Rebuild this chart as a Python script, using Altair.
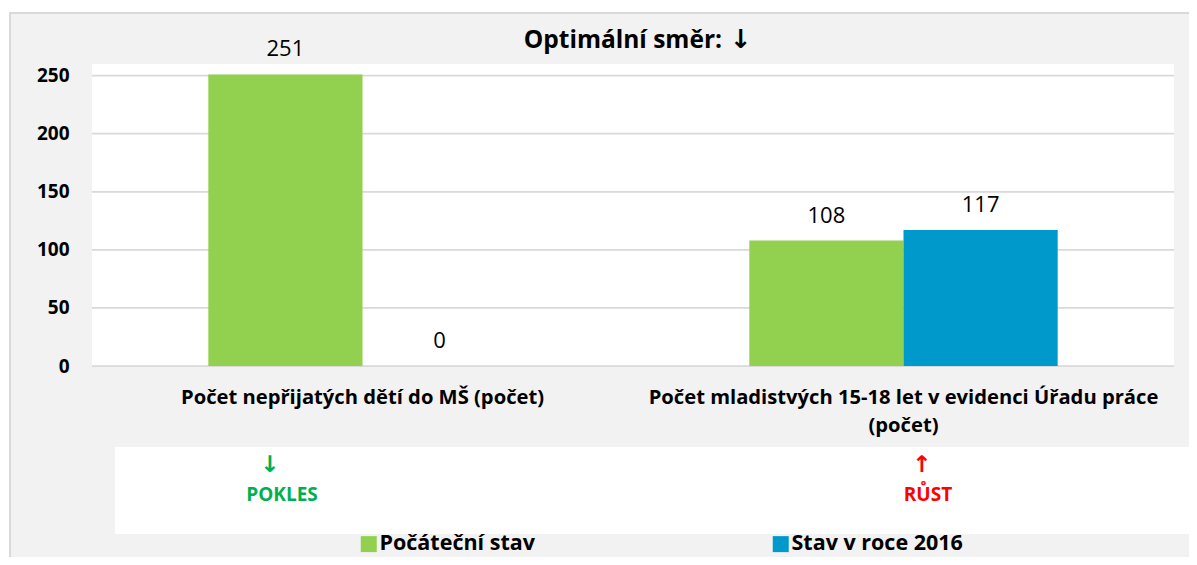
import altair as alt
import pandas as pd

# ---- data ----
categories = [
    "Počet nepřijatých dětí do MŠ (počet)",
    "Počet mladistvých 15-18 let v evidenci Úřadu práce (počet)",
]
category_labels = [
    "Počet nepřijatých dětí do MŠ (počet)",
    "Počet mladistvých 15-18 let v evidenci Úřadu práce\n(počet)",
]
series = ["Počáteční stav", "Stav v roce 2016"]
start_values = [251, 108]
values_2016 = [0, 117]
series_colors = ["#92D050", "#0099CC"]
y_ticks = [0, 50, 100, 150, 200, 250]
title_text = "Optimální směr:"
title_arrow = "↓"
trend_arrows = ["↓", "↑"]
trend_words = ["POKLES", "RŮST"]
trend_colors = ["#00B050", "#FF0000"]

# ---- tables ----
rows = []
for i, c in enumerate(categories):
    rows.append({"cat": c, "series": series[0], "value": start_values[i]})
    rows.append({"cat": c, "series": series[1], "value": values_2016[i]})
bars_df = pd.DataFrame(rows)
cat_df = pd.DataFrame({"cat": categories, "label": category_labels})
grid_df = pd.DataFrame({"value": y_ticks})
one = pd.DataFrame({"a": [0]})

W, H = 1082, 302
FONT = "Open Sans"
ARROW_FONT = "DejaVu Sans"

xscale = alt.Scale(domain=categories, paddingInner=0.43, paddingOuter=0.215)
xoff = alt.Scale(domain=series, paddingInner=0, paddingOuter=0)
yscale = alt.Scale(domain=[0, 260], nice=False, zero=True)
yaxis = alt.Axis(
    values=y_ticks, grid=False, domain=False, ticks=False, title=None,
    labelFont=FONT, labelFontSize=19, labelFontWeight="bold", labelColor="#000000",
    labelPadding=23, labelBaseline="middle", zindex=2,
)

frame = alt.Chart(one).mark_rect(fill="#F2F2F2", stroke="#D9D9D9", strokeWidth=2).encode(
    x=alt.value(-82), x2=alt.value(1120), y=alt.value(-51), y2=alt.value(530)
)
plot_bg = alt.Chart(one).mark_rect(fill="white").encode(
    x=alt.value(0), x2=alt.value(W), y=alt.value(0), y2=alt.value(H)
)
note_bg = alt.Chart(one).mark_rect(fill="white").encode(
    x=alt.value(23), x2=alt.value(1120), y=alt.value(383), y2=alt.value(470)
)

grid = alt.Chart(grid_df).mark_rule(color="#D9D9D9", strokeWidth=1.75).encode(
    y=alt.Y("value:Q", scale=yscale, axis=yaxis),
    x=alt.value(0), x2=alt.value(W),
)

bars = alt.Chart(bars_df).mark_bar().encode(
    x=alt.X("cat:N", scale=xscale, axis=None, sort=categories),
    xOffset=alt.XOffset("series:N", scale=xoff, sort=series),
    y=alt.Y("value:Q", scale=yscale, axis=yaxis),
    color=alt.Color(
        "series:N",
        scale=alt.Scale(domain=series, range=series_colors),
        legend=alt.Legend(
            orient="none", legendX=266, legendY=469, direction="horizontal",
            title=None, symbolType="square", symbolSize=256, symbolStrokeWidth=0,
            labelFont=FONT, labelFontSize=21.5, labelFontWeight="bold",
            labelColor="#000000", labelOffset=0, columnPadding=235, padding=0,
            labelLimit=500,
        ),
    ),
)

value_labels = alt.Chart(bars_df).mark_text(
    font=FONT, fontSize=22, color="#000000", baseline="alphabetic", dy=-18
).encode(
    x=alt.X("cat:N", scale=xscale, axis=None, sort=categories),
    xOffset=alt.XOffset("series:N", scale=xoff, sort=series),
    y=alt.Y("value:Q", scale=yscale, axis=yaxis),
    text=alt.Text("value:Q"),
)

cat_labels = alt.Chart(cat_df).mark_text(
    font=FONT, fontSize=20.2, fontWeight="bold", color="#000000",
    baseline="alphabetic", align="center", lineBreak="\n", lineHeight=28,
).encode(
    x=alt.X("cat:N", scale=xscale, axis=None, sort=categories),
    y=alt.value(340),
    text="label:N",
)

title = alt.Chart(one).mark_text(
    font=FONT, fontSize=24.5, fontWeight="bold", color="#000000",
    baseline="alphabetic", align="right",
).encode(x=alt.value(630), y=alt.value(-16), text=alt.value(title_text))
title_arr = alt.Chart(one).mark_text(
    font=ARROW_FONT, fontSize=26, fontWeight="bold", color="#000000",
    baseline="middle", align="center",
).encode(x=alt.value(649), y=alt.value(-24), text=alt.value(title_arrow))

trend_layers = []
arrow_x = [178, 830]
word_x = [190, 836]
for i in range(2):
    trend_layers.append(
        alt.Chart(one).mark_text(
            font=ARROW_FONT, fontSize=23, fontWeight="bold", color=trend_colors[i],
            baseline="middle", align="center",
        ).encode(x=alt.value(arrow_x[i]), y=alt.value(401), text=alt.value(trend_arrows[i]))
    )
    trend_layers.append(
        alt.Chart(one).mark_text(
            font=FONT, fontSize=19, fontWeight="bold", color=trend_colors[i],
            baseline="alphabetic", align="center",
        ).encode(x=alt.value(word_x[i]), y=alt.value(437), text=alt.value(trend_words[i]))
    )

chart = alt.layer(
    frame, plot_bg, note_bg, grid, bars, value_labels, cat_labels, title, title_arr,
    *trend_layers
).properties(
    width=W, height=H,
    padding={"left": 84, "top": 56, "right": 15, "bottom": 191},
    autosize=alt.AutoSizeParams(type="none"),
    background="white",
).configure_view(stroke=None)

chart.save("out.html", embed_options={"renderer": "svg", "actions": False})
